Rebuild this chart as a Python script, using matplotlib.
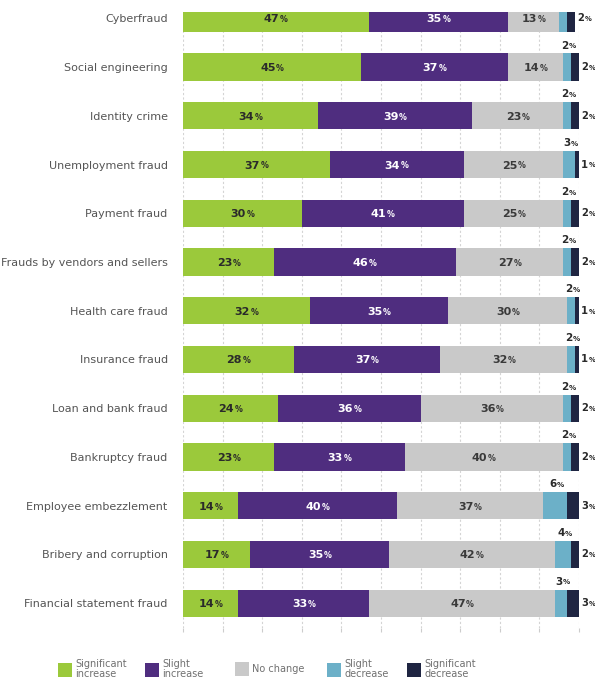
import matplotlib
matplotlib.use("Agg")
import matplotlib.pyplot as plt
from matplotlib.transforms import offset_copy
import numpy as np

categories = ["Cyberfraud", "Social engineering", "Identity crime", "Unemployment fraud",
              "Payment fraud", "Frauds by vendors and sellers", "Health care fraud",
              "Insurance fraud", "Loan and bank fraud", "Bankruptcy fraud",
              "Employee embezzlement", "Bribery and corruption", "Financial statement fraud"]
sig_increase = [47, 45, 34, 37, 30, 23, 32, 28, 24, 23, 14, 17, 14]
slight_increase = [35, 37, 39, 34, 41, 46, 35, 37, 36, 33, 40, 35, 33]
no_change = [13, 14, 23, 25, 25, 27, 30, 32, 36, 40, 37, 42, 47]
slight_decrease = [2, 2, 2, 3, 2, 2, 2, 2, 2, 2, 6, 4, 3]
sig_decrease = [2, 2, 2, 1, 2, 2, 1, 1, 2, 2, 3, 2, 3]
series_names = ["Significant\nincrease", "Slight\nincrease", "No change", "Slight\ndecrease", "Significant\ndecrease"]
colors = ["#9BC93B", "#4F2D7F", "#C9C9C9", "#6CB0C8", "#1F2542"]
label_colors = ["#2a2a2a", "#ffffff", "#3a3a3a", "#2a2a2a", "#2a2a2a"]

W, H = 595, 686
fig = plt.figure(figsize=(W/100, H/100), dpi=100)
ax_left, ax_right = 183, 579
ax_top, ax_bot = 12, 628
ax = fig.add_axes([ax_left/W, 1 - ax_bot/H, (ax_right-ax_left)/W, (ax_bot-ax_top)/H])


def pct_label(x, yv, v, color, ha, va, size=7.5):
    """Bold number followed by a smaller percent sign."""
    if ha == "center":
        t = ax.text(x, yv, f"{int(v)}", ha="right", va=va, fontsize=size,
                    fontweight="bold", color=color, zorder=5,
                    transform=offset_copy(ax.transData, fig=fig, x=2.5, y=0, units="points"))
    else:
        t = ax.text(x, yv, f"{int(v)}", ha="left", va=va, fontsize=size,
                    fontweight="bold", color=color, zorder=5)
    ax.annotate("%", xy=(1.0, 0.21), xycoords=t, xytext=(0.4, 0), textcoords="offset points",
                ha="left", va="baseline", fontsize=size - 2.3, fontweight="bold",
                color=color, zorder=5)


y = np.arange(len(categories))
series = [sig_increase, slight_increase, no_change, slight_decrease, sig_decrease]
left = np.zeros(len(categories))
bh = 0.56
containers = []
for i, (vals, c) in enumerate(zip(series, colors)):
    vals = np.array(vals, dtype=float)
    bc = ax.barh(y, vals, left=left, height=bh, color=c, zorder=3, linewidth=0)
    containers.append(bc)
    for j, v in enumerate(vals):
        if i < 3:
            pct_label(left[j] + v/2, y[j] + 0.02, v, label_colors[i], "center", "center", 8)
        elif i == 3:
            if j == 0:
                continue  # above the visible area in the reference
            pct_label(left[j] + v/2 - 1.5, y[j] - bh/2 - 0.06, v, label_colors[i], "left", "bottom", 7.5)
        else:
            pct_label(left[j] + v + 0.5, y[j], v, label_colors[i], "left", "center", 7.2)
    left += vals

ax.set_xlim(0, 100)
ax.set_ylim(len(categories) - 1 + 0.51, -0.13)
ax.set_xticks(np.arange(0, 101, 10))
ax.set_xticklabels([])
ax.set_yticks(y)
ax.set_yticklabels(categories, fontsize=8, color="#555555")
ax.tick_params(axis="y", length=0, pad=11)
ax.tick_params(axis="x", length=3, color="#cccccc", width=0.8)
ax.grid(axis="x", linestyle=(0, (2, 2)), color="#d4d4d4", linewidth=0.8, zorder=0)
for s in ax.spines.values():
    s.set_visible(False)

# legend entries
leg_x = [53, 140, 230, 322, 402]
for bc, name, lx in zip(containers, series_names, leg_x):
    leg = fig.legend([bc], [name], loc="center left", bbox_to_anchor=(lx/W, (H-669)/H),
                     frameon=False, fontsize=7, handlelength=1.5, handleheight=1.85,
                     handletextpad=0.3, borderpad=0, labelspacing=0)
    for t in leg.get_texts():
        t.set_color("#707070")
        t.set_linespacing(1.0)

fig.savefig("out.png", dpi=100)
